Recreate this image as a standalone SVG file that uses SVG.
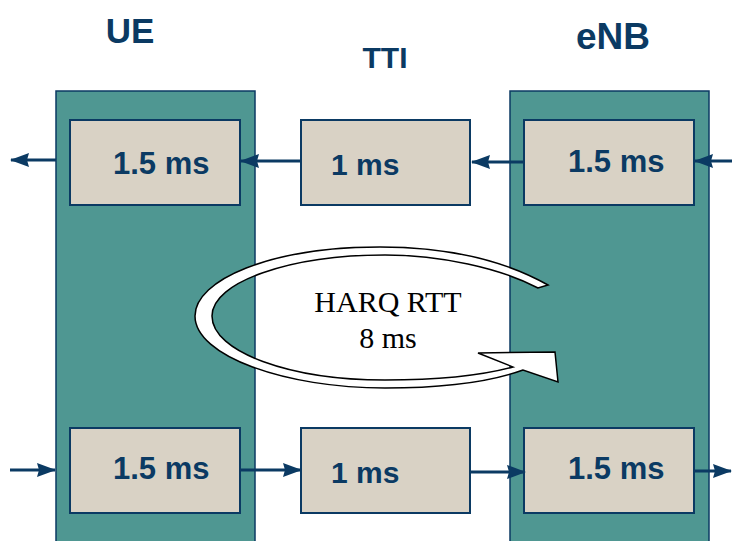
<svg xmlns="http://www.w3.org/2000/svg" width="732" height="541" viewBox="0 0 732 541">
<style>
.col{fill:#4F9792;stroke:#0B3A63;stroke-width:1.5}
.box{fill:#D9D2C5;stroke:#0B3A63;stroke-width:2}
.lbl{font-family:"Liberation Sans",Arial,sans-serif;font-weight:bold;fill:#0B3A63}
.conn{stroke:#0B3A63;stroke-width:3;fill:none;marker-end:url(#ah)}
.harq{font-family:"Liberation Serif","Times New Roman",serif;font-size:30px;fill:#000;text-anchor:middle}
</style>
<defs>
<marker id="ah" markerUnits="userSpaceOnUse" viewBox="0 0 19 14" refX="18" refY="7" markerWidth="19" markerHeight="14" orient="auto">
<path d="M0,0 L19,7 L0,14 L2,7 Z" fill="#0B3A63"/>
</marker>
</defs>
<rect width="732" height="541" fill="#fff"/>
<g id="ue">
<rect class="col" x="56" y="91" width="199" height="460"/>
<text class="lbl" x="130" y="43" font-size="35" text-anchor="middle">UE</text>
</g>
<g id="enb">
<rect class="col" x="510" y="91" width="199" height="460"/>
<text class="lbl" x="613" y="49" font-size="37" text-anchor="middle">eNB</text>
</g>
<g id="tti-label">
<text class="lbl" x="385" y="68" font-size="30" text-anchor="middle">TTI</text>
</g>
<g id="ue-top">
<rect class="box" x="70" y="120" width="170" height="85"/>
<text class="lbl" x="113" y="174" font-size="31">1.5 ms</text>
</g>
<g id="tti-top">
<rect class="box" x="301" y="120" width="169" height="85"/>
<text class="lbl" x="331" y="175" font-size="30">1 ms</text>
</g>
<g id="enb-top">
<rect class="box" x="524" y="120" width="170" height="85"/>
<text class="lbl" x="568" y="172" font-size="31">1.5 ms</text>
</g>
<g id="ue-bottom">
<rect class="box" x="70" y="428" width="170" height="85"/>
<text class="lbl" x="113" y="479" font-size="31">1.5 ms</text>
</g>
<g id="tti-bottom">
<rect class="box" x="301" y="428" width="169" height="85"/>
<text class="lbl" x="331" y="483" font-size="30">1 ms</text>
</g>
<g id="enb-bottom">
<rect class="box" x="524" y="428" width="170" height="85"/>
<text class="lbl" x="568" y="479" font-size="31">1.5 ms</text>
</g>
<g id="harq">
<path d="M548,285 C500,258 440,247 380,247 C270,247 195,280 195,316 C195,356 285,388 385,388 C440,388 490,382 523,370 L558,382 L555,352 L478,353 L513,367 C480,376 430,380 385,380 C290,380 212,352 212,316 C212,282 290,255 385,255 C440,255 500,268 538,288 Z" fill="#fff" stroke="#000" stroke-width="1.5" stroke-linejoin="miter"/>
<text class="harq" x="388" y="312">HARQ RTT</text>
<text class="harq" x="388" y="348">8 ms</text>
</g>
<g id="connectors">
<path class="conn" d="M56,160 L11,160"/>
<path class="conn" d="M301,161 L241,161"/>
<path class="conn" d="M524,162 L472,162"/>
<path class="conn" d="M732,161 L695,161"/>
<path class="conn" d="M10,470 L55,470"/>
<path class="conn" d="M240,470 L301,470"/>
<path class="conn" d="M470,472 L525,472"/>
<path class="conn" d="M694,471 L731,471"/>
</g>
</svg>
